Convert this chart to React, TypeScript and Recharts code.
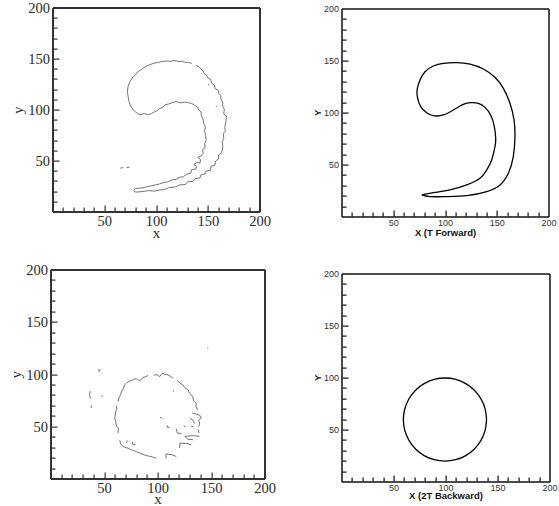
import React from 'react';
import { LineChart, Line, XAxis, YAxis, ReferenceLine } from 'recharts';

// shared axis ticks (every 10, labels every 50)
const axisTicks = [0, 10, 20, 30, 40, 50, 60, 70, 80, 90, 100, 110, 120, 130, 140, 150, 160, 170, 180, 190, 200];

// top right: smooth contour after T forward
const forwardCurve = [
  { x: 77.0, y: 21.2 }, { x: 88.2, y: 23.4 }, { x: 104.3, y: 26.0 }, { x: 120.5, y: 30.8 },
  { x: 133.3, y: 37.2 }, { x: 139.8, y: 45.2 }, { x: 144.6, y: 54.8 }, { x: 147.8, y: 67.6 },
  { x: 148.5, y: 75.6 }, { x: 147.2, y: 86.9 }, { x: 143.6, y: 98.1 }, { x: 138.2, y: 105.4 },
  { x: 131.7, y: 109.3 }, { x: 124.3, y: 109.9 }, { x: 117.2, y: 108.3 }, { x: 107.6, y: 102.9 },
  { x: 97.9, y: 98.1 }, { x: 88.2, y: 97.4 }, { x: 81.8, y: 100.3 }, { x: 76.0, y: 106.1 },
  { x: 72.8, y: 115.7 }, { x: 72.8, y: 123.7 }, { x: 75.4, y: 131.7 }, { x: 80.2, y: 139.7 },
  { x: 88.2, y: 145.2 }, { x: 97.9, y: 147.8 }, { x: 110.8, y: 148.4 }, { x: 123.7, y: 147.1 },
  { x: 136.6, y: 142.3 }, { x: 147.8, y: 134.3 }, { x: 155.9, y: 123.7 }, { x: 162.3, y: 109.3 },
  { x: 166.2, y: 93.3 }, { x: 167.1, y: 77.2 }, { x: 165.5, y: 58.0 }, { x: 160.7, y: 42.0 },
  { x: 152.7, y: 30.8 }, { x: 139.8, y: 24.4 }, { x: 120.5, y: 20.5 }, { x: 101.1, y: 19.6 },
  { x: 85.0, y: 19.6 }, { x: 77.0, y: 21.2 },
];

// bottom right: circle after 2T backward
const backwardCircle = [
  { x: 139, y: 60 }, { x: 137.6, y: 70.4 }, { x: 133.6, y: 80 }, { x: 127.3, y: 88.3 },
  { x: 119, y: 94.6 }, { x: 109.4, y: 98.6 }, { x: 99, y: 100 }, { x: 88.6, y: 98.6 },
  { x: 79, y: 94.6 }, { x: 70.7, y: 88.3 }, { x: 64.4, y: 80 }, { x: 60.4, y: 70.4 },
  { x: 59, y: 60 }, { x: 60.4, y: 49.6 }, { x: 64.4, y: 40 }, { x: 70.7, y: 31.7 },
  { x: 79, y: 25.4 }, { x: 88.6, y: 21.4 }, { x: 99, y: 20 }, { x: 109.4, y: 21.4 },
  { x: 119, y: 25.4 }, { x: 127.3, y: 31.7 }, { x: 133.6, y: 40 }, { x: 137.6, y: 49.6 },
  { x: 139, y: 60 },
];

// top left: detected edges (noisy)
const tlLoop = [
  { x: 98.6, y: 98.5 }, { x: 95, y: 96.5 }, { x: 92, y: 95.3 }, { x: 88, y: 96.5 }, { x: 84, y: 95.3 },
  { x: 80.5, y: 97.5 }, { x: 77.6, y: 100 }, { x: 75, y: 104 }, { x: 73.5, y: 108 }, { x: 72.8, y: 112 },
  { x: 71.8, y: 118 }, { x: 72.5, y: 123 }, { x: 74, y: 127 }, { x: 76, y: 130.5 }, { x: 79, y: 134 },
  { x: 82, y: 137.5 }, { x: 85, y: 139.5 }, { x: 88, y: 141.5 }, { x: 91, y: 143.5 }, { x: 94, y: 144.5 },
  { x: 97, y: 145.8 }, { x: 101, y: 146.5 }, { x: 105, y: 147.5 }, { x: 109.8, y: 148.1 }, { x: 114, y: 147.8 },
  { x: 117, y: 148.6 }, { x: 121, y: 147.5 }, { x: 125, y: 147.8 }, { x: 128, y: 146.5 }, { x: 131, y: 146.8 },
  { x: 134, y: 145.5 },
];
const tlOuter = [
  { x: 138, y: 143.5 }, { x: 141, y: 142.6 }, { x: 143, y: 140 }, { x: 145, y: 138.5 }, { x: 146, y: 135.5 },
  { x: 148.5, y: 134 }, { x: 150, y: 131 }, { x: 152.5, y: 130 }, { x: 153, y: 126.5 }, { x: 156, y: 124.5 },
  { x: 156.5, y: 121 }, { x: 159.5, y: 119.5 }, { x: 160, y: 116 }, { x: 162, y: 114.5 }, { x: 162.5, y: 110 },
  { x: 164, y: 108 }, { x: 164, y: 103 }, { x: 165.5, y: 101 }, { x: 165, y: 96 }, { x: 167.5, y: 94 },
  { x: 167, y: 88 }, { x: 166, y: 84 }, { x: 166.5, y: 79 }, { x: 164.5, y: 77 }, { x: 165, y: 72 },
  { x: 163.5, y: 69 }, { x: 164, y: 63 }, { x: 163, y: 58 }, { x: 160, y: 56 }, { x: 160, y: 52 },
  { x: 157, y: 50 }, { x: 156.5, y: 46 }, { x: 153, y: 45 }, { x: 152, y: 41 }, { x: 148, y: 40 },
  { x: 147, y: 37.5 }, { x: 143, y: 36.5 }, { x: 142, y: 33.5 }, { x: 137, y: 32.5 }, { x: 135, y: 30 },
  { x: 130, y: 29.5 }, { x: 128, y: 27 }, { x: 122, y: 26.5 }, { x: 118, y: 24.5 }, { x: 112, y: 24 },
  { x: 108, y: 22 }, { x: 103, y: 21.5 }, { x: 98, y: 20.5 }, { x: 92, y: 21 }, { x: 86, y: 20 },
  { x: 80, y: 19.5 }, { x: 78, y: 20.5 },
];
const tlInner = [
  { x: 78, y: 21.5 }, { x: 80, y: 23 }, { x: 85, y: 23.5 }, { x: 90, y: 24.5 }, { x: 94, y: 25.5 },
  { x: 99, y: 26.5 }, { x: 103, y: 27.5 }, { x: 107, y: 29 }, { x: 111, y: 29.5 }, { x: 115, y: 31.5 },
  { x: 119, y: 32 }, { x: 122, y: 34 }, { x: 126, y: 34.5 }, { x: 129, y: 37 }, { x: 133, y: 38 },
  { x: 134, y: 41.5 }, { x: 138, y: 42 }, { x: 138.5, y: 45 }, { x: 136, y: 46.5 }, { x: 139, y: 48.5 },
  { x: 142, y: 48 }, { x: 142.5, y: 51.5 }, { x: 140, y: 53.5 }, { x: 143, y: 55 }, { x: 145, y: 57.5 },
  { x: 144.5, y: 61 }, { x: 147, y: 63 }, { x: 146.5, y: 67 }, { x: 148, y: 70 }, { x: 147.5, y: 75 },
  { x: 146.5, y: 79 }, { x: 147, y: 84 }, { x: 145.5, y: 87 }, { x: 145, y: 91 }, { x: 143.5, y: 94 },
  { x: 143, y: 98 }, { x: 141, y: 100 }, { x: 139.5, y: 103 }, { x: 137, y: 104.5 }, { x: 134, y: 106.5 },
  { x: 131, y: 107 }, { x: 127, y: 107.8 }, { x: 123, y: 107 }, { x: 119, y: 108.3 }, { x: 116, y: 107.5 },
  { x: 112, y: 106 }, { x: 108, y: 105 }, { x: 106, y: 102.5 }, { x: 103, y: 101.5 }, { x: 101, y: 99.5 },
  { x: 98.6, y: 98.5 },
];
const tlSpecks = [
  [{ x: 65, y: 43 }, { x: 68, y: 43.5 }],
  [{ x: 71, y: 43.5 }, { x: 74, y: 44 }],
  [{ x: 150, y: 124.6 }, { x: 150.8, y: 125.5 }],
  [{ x: 157.5, y: 103 }, { x: 158.3, y: 104 }],
];

// bottom left: detected edges (noisy circle)
const blTop = [
  { x: 62.7, y: 74.2 }, { x: 63.5, y: 77.5 }, { x: 65, y: 80.6 }, { x: 66, y: 84 }, { x: 68, y: 87 },
  { x: 68.5, y: 90 }, { x: 70.5, y: 91.7 }, { x: 73, y: 93.5 }, { x: 75, y: 94 }, { x: 77, y: 95.5 },
  { x: 80, y: 95.9 }, { x: 82, y: 94 }, { x: 84, y: 95 }, { x: 86, y: 97 }, { x: 88.5, y: 98 }, { x: 90.7, y: 99 },
];
const blTop2 = [
  { x: 96, y: 99.5 }, { x: 99, y: 99.7 }, { x: 101.6, y: 98 }, { x: 103, y: 100 }, { x: 104.7, y: 101.3 },
  { x: 107, y: 100 }, { x: 109.3, y: 99.7 }, { x: 112, y: 98 }, { x: 114, y: 96.5 },
];
const blRight = [
  { x: 118, y: 94 }, { x: 120.5, y: 92 }, { x: 123.3, y: 90 }, { x: 125, y: 87.5 }, { x: 128, y: 85.4 },
  { x: 129.5, y: 82 }, { x: 132.6, y: 79 }, { x: 133, y: 75.5 }, { x: 135.7, y: 72.6 }, { x: 135.5, y: 69 },
  { x: 137, y: 66.2 },
];
const blRight2 = [
  { x: 132, y: 63 }, { x: 136, y: 62 }, { x: 139, y: 61 }, { x: 140.4, y: 58.3 }, { x: 138, y: 56 },
  { x: 139, y: 53.5 }, { x: 138, y: 50 },
];
const blLeft = [
  { x: 61.2, y: 70 }, { x: 61.5, y: 67.8 }, { x: 60.5, y: 64 }, { x: 59.6, y: 58.3 }, { x: 60.5, y: 55 },
  { x: 61.2, y: 50.3 }, { x: 63, y: 49 }, { x: 62.7, y: 44 },
];
const blBottom = [
  { x: 64.3, y: 37 }, { x: 65, y: 33.5 }, { x: 67.4, y: 31.2 }, { x: 70, y: 30 }, { x: 72, y: 29.5 },
  { x: 75, y: 28 }, { x: 78, y: 27 }, { x: 81, y: 25.5 }, { x: 83, y: 24.8 }, { x: 86, y: 23.5 },
  { x: 89, y: 22.5 }, { x: 92.2, y: 21.7 }, { x: 95, y: 21 }, { x: 98.4, y: 20 },
];
const blHook = [{ x: 107.5, y: 19.5 }, { x: 107.5, y: 24 }, { x: 114, y: 23 }, { x: 117, y: 21.5 }];
const blSquiggles = [
  [{ x: 120.2, y: 29.6 }, { x: 120.5, y: 34.4 }, { x: 127, y: 34 }, { x: 131, y: 32.8 }],
  [{ x: 132.6, y: 37.6 }, { x: 128, y: 38 }, { x: 125, y: 40.8 }, { x: 133, y: 41.5 }, { x: 138.8, y: 40.8 }],
  [{ x: 117, y: 48 }, { x: 118, y: 44 }, { x: 122, y: 43.5 }],
  [{ x: 130, y: 58 }, { x: 133, y: 56 }, { x: 134, y: 53 }],
  [{ x: 131, y: 50.5 }, { x: 133, y: 50 }],
  [{ x: 137.5, y: 47.5 }, { x: 138.4, y: 44 }],
];
const blSpecks = [
  [{ x: 44.5, y: 105 }, { x: 45, y: 103 }, { x: 46, y: 105 }],
  [{ x: 47, y: 79 }, { x: 48.5, y: 79.5 }],
  [{ x: 36.5, y: 84 }, { x: 36, y: 80 }, { x: 37, y: 77 }],
  [{ x: 37.5, y: 70.5 }, { x: 37.8, y: 68 }],
  [{ x: 114, y: 84 }, { x: 115.2, y: 84.3 }],
  [{ x: 102, y: 59 }, { x: 104, y: 58 }],
  [{ x: 108.5, y: 51.5 }, { x: 108.5, y: 49.5 }, { x: 111, y: 49.5 }],
  [{ x: 124, y: 51 }, { x: 126, y: 50 }],
  [{ x: 146, y: 125.5 }, { x: 147, y: 125.5 }],
  [{ x: 76, y: 35.5 }, { x: 76.5, y: 33 }, { x: 79, y: 33.5 }],
  [{ x: 71, y: 37 }, { x: 71, y: 34.5 }],
];

const serif = { font: '"Liberation Serif", "Times New Roman", serif', size: 14.5, color: '#2a2a2a', stroke: '#333', axisW: 2, xGap: 13.5, yGap: 3, yShift: 5, major: 6, minor: 4 };
const sans = { font: '"Liberation Sans", Arial, sans-serif', size: 9, color: '#333', stroke: '#111', axisW: 1.5, xGap: 9, yGap: 3, yShift: 3.2, major: 6, minor: 4 };

// inward tick marks (filled 1px rects) and labels every 50
const XTick = ({ x, y, payload, st }: any) => {
  const v = Number(payload.value);
  if (v === 0) return null;
  const major = v % 50 === 0;
  const len = major ? st.major : st.minor;
  return (
    <g>
      {v < 200 && <rect x={Math.round(Number(x)) - 0.5} y={Number(y) - len - 0.5} width={1.2} height={len} fill={st.stroke} />}
      {major && (
        <text x={x} y={Number(y) + st.xGap} textAnchor="middle" fontFamily={st.font} fontSize={st.size} fill={st.color}>{v}</text>
      )}
    </g>
  );
};

const YTick = ({ x, y, payload, st }: any) => {
  const v = Number(payload.value);
  if (v === 0) return null;
  const major = v % 50 === 0;
  const len = major ? st.major : st.minor;
  return (
    <g>
      {v < 200 && <rect x={Number(x) + 0.5} y={Math.round(Number(y)) - 0.5} width={len} height={1.2} fill={st.stroke} />}
      {major && (
        <text x={Number(x) - st.yGap} y={Number(y) + st.yShift} textAnchor="end" fontFamily={st.font} fontSize={st.size} fill={st.color}>{v}</text>
      )}
    </g>
  );
};

type PanelProps = {
  left: number; top: number; width: number; height: number;
  margin: { top: number; right: number; left: number; bottom: number };
  yWidth: number; xHeight: number; st: any;
  xTitle: string; yTitle: string; xOffset: number; yOffset: number; yShift: number; titleStyle: any;
  children: React.ReactNode;
};

function Panel(p: PanelProps) {
  const axisLine = { stroke: p.st.stroke, strokeWidth: p.st.axisW };
  return (
    <div style={{ position: 'absolute', left: p.left, top: p.top }}>
      <LineChart width={p.width} height={p.height} margin={p.margin}>
        <XAxis
          dataKey="x" type="number" domain={[0, 200]} ticks={axisTicks} interval={0}
          tickSize={0} tickMargin={0} height={p.xHeight} axisLine={axisLine} tickLine={false}
          tick={<XTick st={p.st} />}
          label={{ value: p.xTitle, position: 'insideBottom', offset: p.xOffset, ...p.titleStyle }}
        />
        <YAxis
          dataKey="y" type="number" domain={[0, 200]} ticks={axisTicks} interval={0}
          tickSize={0} tickMargin={0} width={p.yWidth} axisLine={axisLine} tickLine={false}
          tick={<YTick st={p.st} />}
          label={{ value: p.yTitle, angle: -90, position: 'insideLeft', offset: p.yOffset, dy: p.yShift, ...p.titleStyle }}
        />
        <ReferenceLine y={200} stroke={p.st.stroke} strokeWidth={p.st.axisW} />
        <ReferenceLine x={200} stroke={p.st.stroke} strokeWidth={p.st.axisW} />
        {p.children}
      </LineChart>
    </div>
  );
}

const noisy = (data: any[], key: string) => (
  <Line key={key} data={data} dataKey="y" type="linear" stroke="#747474" strokeWidth={1} dot={false} activeDot={false} isAnimationActive={false} />
);

export default function App() {
  const serifTitle = { fontFamily: serif.font, fontSize: 15, fill: '#2a2a2a' };
  const sansTitle = { fontFamily: sans.font, fontSize: 9.5, fontWeight: 'bold', fill: '#111' };
  return (
    <div style={{ position: 'fixed', left: 0, top: 0, width: 559, height: 506, background: '#fff' }}>
      <Panel left={0} top={0} width={280} height={250} margin={{ top: 8, right: 20, left: 0, bottom: 0 }}
        yWidth={53} xHeight={38} st={serif} xTitle="x" yTitle="y" xOffset={12} yOffset={18} yShift={4} titleStyle={serifTitle}>
        {noisy(tlLoop, 'tl1')}
        {noisy(tlOuter, 'tl2')}
        {noisy(tlInner, 'tl3')}
        {tlSpecks.map((d, i) => noisy(d, 'tls' + i))}
      </Panel>
      <Panel left={280} top={0} width={279} height={250} margin={{ top: 9, right: 10, left: 0, bottom: 0 }}
        yWidth={62} xHeight={33} st={sans} xTitle="X (T Forward)" yTitle="Y" xOffset={14} yOffset={38} yShift={3} titleStyle={sansTitle}>
        <Line data={forwardCurve} dataKey="y" type="natural" stroke="#000" strokeWidth={1.3} dot={false} activeDot={false} isAnimationActive={false} />
      </Panel>
      <Panel left={0} top={255} width={280} height={251} margin={{ top: 15, right: 15, left: 0, bottom: 0 }}
        yWidth={51} xHeight={27} st={serif} xTitle="x" yTitle="y" xOffset={2} yOffset={15.5} yShift={4} titleStyle={serifTitle}>
        {noisy(blTop, 'bl1')}
        {noisy(blTop2, 'bl2')}
        {noisy(blRight, 'bl3')}
        {noisy(blRight2, 'bl4')}
        {noisy(blLeft, 'bl5')}
        {noisy(blBottom, 'bl6')}
        {noisy(blHook, 'bl7')}
        {blSquiggles.map((d, i) => noisy(d, 'blq' + i))}
        {blSpecks.map((d, i) => noisy(d, 'bls' + i))}
      </Panel>
      <Panel left={280} top={255} width={279} height={251} margin={{ top: 19, right: 9, left: 0, bottom: 0 }}
        yWidth={62} xHeight={24} st={sans} xTitle="X (2T Backward)" yTitle="Y" xOffset={7} yOffset={38} yShift={3} titleStyle={sansTitle}>
        <Line data={backwardCircle} dataKey="y" type="natural" stroke="#000" strokeWidth={1.3} dot={false} activeDot={false} isAnimationActive={false} />
      </Panel>
    </div>
  );
}
